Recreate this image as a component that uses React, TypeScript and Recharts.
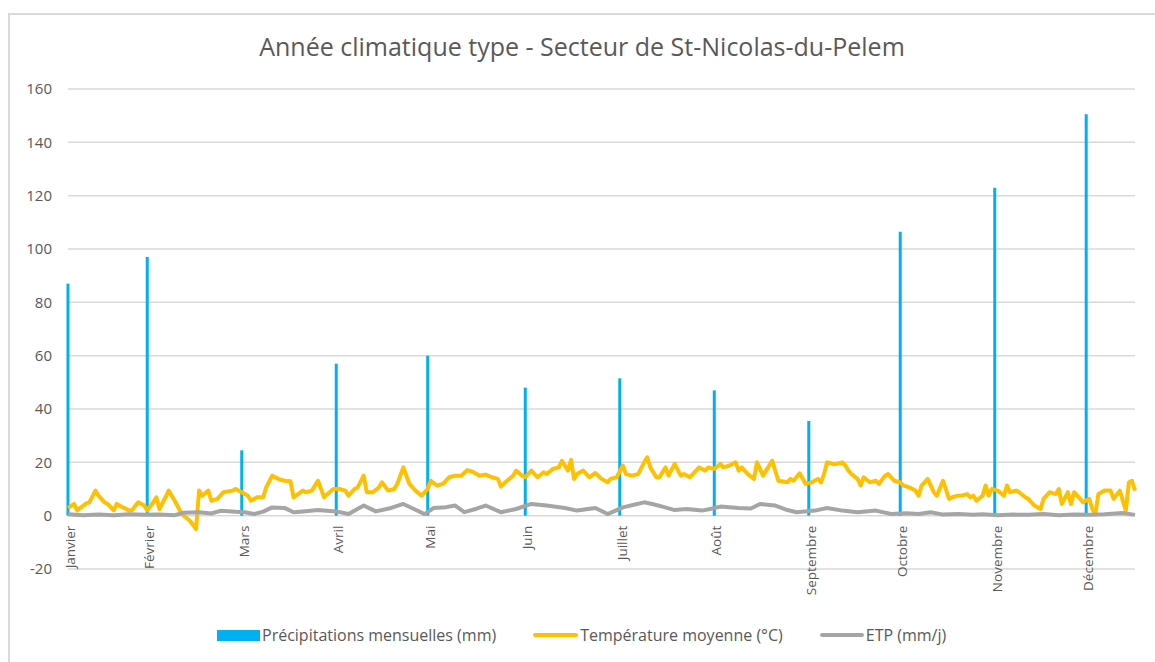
import { Bar, CartesianGrid, ComposedChart, Line, ReferenceDot, XAxis, YAxis } from 'recharts';

const monthLabels = ['Janvier', 'Février', 'Mars', 'Avril', 'Mai', 'Juin', 'Juillet', 'Août', 'Septembre', 'Octobre', 'Novembre', 'Décembre'];
const monthDays = [0, 26, 57, 88, 118, 150, 181, 212, 243, 273, 304, 334];
const precipValues = [87, 97, 24.5, 57, 60, 48, 51.5, 47, 35.5, 106.5, 123, 150.5];

const tempDays = [
  0, 2, 3, 6, 7, 9, 10, 12, 13, 15, 16, 18, 20, 21, 23, 25, 26, 28, 29, 30, 32, 33, 35, 37, 38, 40, 42, 43, 44, 46, 47, 49,
  51, 54, 55, 57, 59, 60, 62, 64, 65, 67, 69, 71, 73, 74, 77, 78, 80, 82, 84, 87, 89, 91, 92, 94, 95, 97, 98, 100, 102, 103,
  105, 107, 108, 110, 112, 114, 116, 118, 119, 121, 123, 125, 127, 129, 131, 133, 135, 137, 139, 141, 142, 144, 146, 147,
  149, 150, 152, 154, 156, 157, 159, 161, 162, 164, 165, 166, 167, 169, 171, 173, 175, 177, 178, 180, 182, 183, 185, 187,
  189, 190, 191, 193, 194, 196, 197, 199, 201, 202, 204, 206, 207, 209, 210, 212, 214, 215, 217, 219, 220, 221, 223, 225,
  226, 228, 229, 231, 233, 236, 237, 238, 240, 242, 244, 246, 247, 248, 249, 251, 252, 254, 255, 256, 257, 259, 260, 261,
  263, 265, 266, 268, 269, 271, 273, 274, 276, 278, 279, 280, 282, 284, 285, 287, 289, 290, 292, 293, 295, 296, 297, 298,
  300, 301, 302, 303, 305, 307, 308, 309, 311, 312, 314, 315, 317, 319, 320, 322, 324, 325, 326, 328, 329, 330, 332, 333,
  335, 336, 337, 338, 340, 342, 343, 345, 347, 348, 349, 350,
];
const tempValues = [
  2.9, 4.4, 2, 4.6, 5, 9.4, 7.5, 5, 4.4, 2, 4.4, 3.1, 2, 2, 5, 3.8, 2, 5, 6.9, 2.5, 6.9, 9.4, 5.6, 1.3, 0, -1.9, -5, 9.4, 7.5, 9.4, 5.6, 6.3,
  8.8, 9.4, 10, 8.8, 7.5, 5.6, 6.9, 6.9, 10.6, 15, 13.8, 13.1, 12.9, 6.9, 9.4, 8.8, 9.4, 13.1, 6.9, 10, 10, 9.4, 7.5, 10, 10.6, 15, 8.8, 8.8, 10.6, 12.5,
  9.4, 10, 11.9, 18.1, 11.9, 9.4, 7.5, 10, 13.1, 11.3, 11.9, 14.4, 15, 15, 17.1, 16.3, 15, 15.4, 14.4, 13.8, 10.9, 13.1, 15, 16.9,
  15, 14.4, 16.9, 14.4, 16.3, 15.6, 17.5, 18.1, 20.6, 16.9, 20.9, 13.8, 15.6, 16.9, 14.4, 16, 13.8, 12.5, 13.8, 14.4, 18.8, 15.6, 15, 15.6,
  20, 21.9, 18.1, 14.4, 14.4, 18.1, 15, 19.4, 15, 15.6, 14.4, 16.9, 18.1, 16.9, 18.1, 17.5, 19.4, 18.1, 18.8, 20, 16.9, 18.1, 15.6, 13.8,
  20, 15, 16.9, 20.6, 13.1, 12.5, 13.8, 13.1, 15.9, 11.9, 12.5, 13.8, 12.5, 15.6, 20, 19.4, 19.4, 20, 18.8, 16.9, 15.6, 13.8, 11.3, 14.4,
  12.5, 13.1, 11.9, 15, 15.6, 13.1, 12.5, 11.3, 10.6, 9.4, 7.5, 11.3, 13.8, 8.8, 7.5, 13.1, 6.3, 6.9, 7.5, 7.5, 8.1, 6.9, 7.5, 5.6,
  7.5, 11.3, 7.5, 10, 9.4, 7.5, 11.3, 8.8, 9.4, 8.8, 6.9, 6.3, 3.8, 2.5, 6.3, 8.8, 8.1, 10, 4.4, 8.8, 4.4, 8.8, 6.3, 5,
  6.3, 2.5, 0.6, 8.1, 9.4, 9.4, 6.3, 9.4, 1.9, 12.5, 13.1, 9.4,
];

const etpDays = [
  0, 5, 10, 15, 20, 25, 30, 35, 38, 43, 47, 50, 55, 58, 61, 64, 67, 71, 74, 78, 82, 88, 92, 97, 101, 106, 110, 114, 117, 120,
  124, 127, 130, 134, 137, 142, 147, 152, 157, 163, 167, 173, 177, 182, 186, 189, 192, 195, 199, 203, 208, 211, 214, 220,
  224, 227, 232, 236, 239, 245, 249, 254, 259, 265, 270, 275, 279, 283, 287, 292, 297, 300, 305, 310, 315, 320, 325, 330,
  335, 340, 346, 350,
];
const etpValues = [
  0.5, 0.2, 0.4, 0.2, 0.5, 0.3, 0.4, 0.2, 1.1, 1.3, 0.8, 1.8, 1.5, 1.3, 0.6, 1.5, 3.1, 2.9, 1.3, 1.7, 2.1, 1.6, 0.6, 3.8, 1.6, 2.9, 4.4, 2.2, 0.6, 2.9,
  3.2, 3.8, 1.3, 2.6, 3.8, 1.3, 2.5, 4.4, 3.8, 2.9, 1.9, 2.9, 0.6, 3.1, 4.2, 5, 4.3, 3.4, 2.1, 2.5, 1.9, 2.6, 3.4, 2.9,
  2.7, 4.4, 3.8, 2.1, 1.3, 1.9, 2.9, 1.9, 1.3, 1.9, 0.6, 0.9, 0.6, 1.3, 0.4, 0.6, 0.3, 0.5, 0.2, 0.4, 0.3, 0.6, 0.2, 0.4,
  0.3, 0.5, 1.0, 0.3,
];

const yTicks = [-20, 0, 20, 40, 60, 80, 100, 120, 140, 160];

type Row = { day: number; precip?: number; temp?: number; etp?: number };

function buildRows(): Row[] {
  const map = new Map<number, Row>();
  const get = (d: number) => {
    if (!map.has(d)) map.set(d, { day: d });
    return map.get(d)!;
  };
  monthDays.forEach((d, i) => (get(d).precip = precipValues[i]));
  tempDays.forEach((d, i) => (get(d).temp = tempValues[i]));
  etpDays.forEach((d, i) => (get(d).etp = etpValues[i]));
  return [...map.values()].sort((a, b) => a.day - b.day);
}

const data = buildRows();
const grey = '#595959';
const font = '"Open Sans", sans-serif';

function MonthLabel({ cx, cy, label }: { cx?: number; cy?: number; label: string }) {
  if (cx == null || cy == null) return <g />;
  const x = cx + 2;
  const y = cy + 10;
  return (
    <text
      x={x}
      y={y}
      transform={`rotate(-90, ${x}, ${y})`}
      textAnchor="end"
      dominantBaseline="central"
      fontSize={13.5}
      fontFamily={font}
      fill={grey}
    >
      {label}
    </text>
  );
}

function LegendRow() {
  const item = { display: 'flex', alignItems: 'center' } as const;
  return (
    <div
      style={{
        position: 'absolute',
        left: 217,
        top: 624,
        display: 'flex',
        alignItems: 'center',
        gap: 37,
        fontFamily: font,
        fontSize: 16,
        color: grey,
        whiteSpace: 'nowrap',
      }}
    >
      <div style={item}>
        <span style={{ width: 43, height: 11, background: '#00B0F0', marginRight: 2 }} />
        Précipitations mensuelles (mm)
      </div>
      <div style={item}>
        <span style={{ width: 45, height: 4, borderRadius: 2, background: '#FFC000', marginRight: 2 }} />
        Température moyenne (°C)
      </div>
      <div style={item}>
        <span style={{ width: 44, height: 4, borderRadius: 2, background: '#A5A5A5', marginRight: 2 }} />
        ETP (mm/j)
      </div>
    </div>
  );
}

export default function App() {
  return (
    <div
      style={{
        position: 'absolute',
        left: 0,
        top: 0,
        width: 1155,
        height: 662,
        overflow: 'hidden',
        background: '#fff',
      }}
    >
      <div
        style={{
          position: 'absolute',
          left: 8,
          top: 13,
          width: 1170,
          height: 680,
          border: '2px solid #d9d9d9',
        }}
      />
      <div
        style={{
          position: 'absolute',
          left: 0,
          top: 29,
          width: 1164,
          textAlign: 'center',
          fontFamily: font,
          fontSize: 25,
          color: grey,
        }}
      >
        Année climatique type - Secteur de St-Nicolas-du-Pelem
      </div>
      <div style={{ position: 'absolute', left: 0, top: 0 }}>
        <ComposedChart width={1155} height={662} data={data} margin={{ top: 89, right: 20, bottom: 93, left: 8 }}>
          <CartesianGrid vertical={false} stroke="#d9d9d9" strokeWidth={1.5} />
          <XAxis type="number" dataKey="day" domain={[0, 350]} hide />
          <YAxis
            domain={[-20, 160]}
            ticks={yTicks}
            width={60}
            axisLine={false}
            tickLine={false}
            tickMargin={10}
            tick={{ fill: grey, fontSize: 15, fontFamily: font }}
          />
          <Bar dataKey="precip" fill="#00B0F0" barSize={3} isAnimationActive={false} />
          <Line
            type="linear"
            dataKey="temp"
            stroke="#FFC000"
            strokeWidth={4}
            strokeLinejoin="round"
            dot={false}
            connectNulls
            isAnimationActive={false}
          />
          <Line
            type="linear"
            dataKey="etp"
            stroke="#A5A5A5"
            strokeWidth={4}
            strokeLinejoin="round"
            dot={false}
            connectNulls
            isAnimationActive={false}
          />
          {monthDays.map((d, i) => (
            <ReferenceDot
              key={d}
              x={d}
              y={0}
              r={0}
              ifOverflow="visible"
              shape={(p: { cx?: number; cy?: number }) => <MonthLabel cx={p.cx} cy={p.cy} label={monthLabels[i]} />}
            />
          ))}
        </ComposedChart>
      </div>
      <LegendRow />
    </div>
  );
}
